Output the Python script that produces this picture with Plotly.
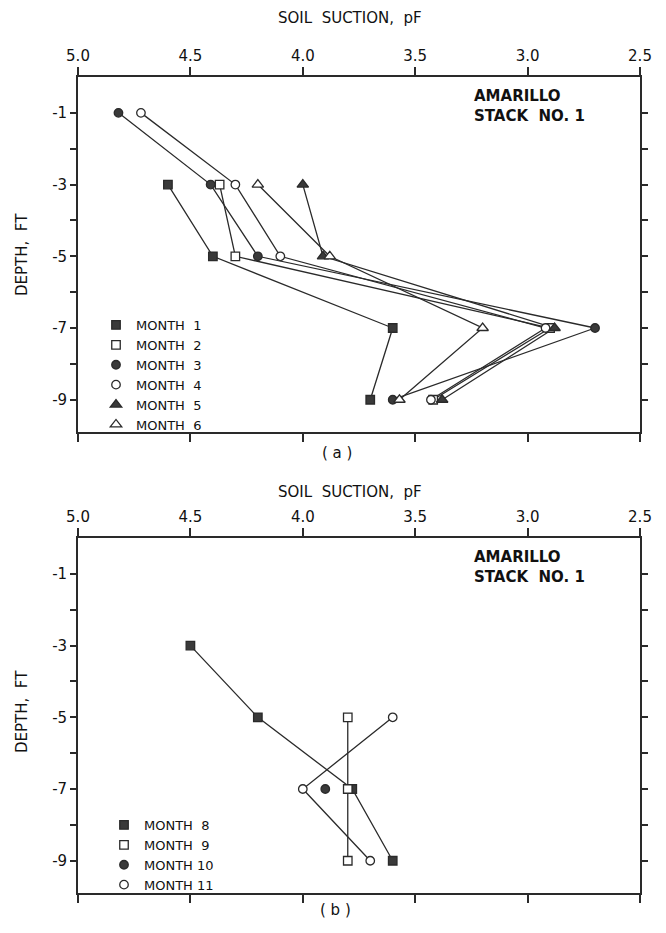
import plotly.graph_objects as go

W, H = 666, 933

# ---------------- data ----------------
depths = [-1, -3, -5, -7, -9]
depth_ticks = [-1, -3, -5, -7, -9]
depth_ticktext = ["-1", "-3", "-5", "-7", "-9"]
suction_ticks = [5.0, 4.5, 4.0, 3.5, 3.0, 2.5]
suction_ticktext = ["5.0", "4.5", "4.0", "3.5", "3.0", "2.5"]

# panel (a)
month1 = [None, 4.60, 4.40, 3.60, 3.70]
month2 = [None, 4.37, 4.30, 2.90, 3.42]
month3 = [4.82, 4.41, 4.20, 2.70, 3.60]
month4 = [4.72, 4.30, 4.10, 2.92, 3.43]
month5 = [None, 4.00, 3.91, 2.88, 3.38]
month6 = [None, 4.20, 3.88, 3.20, 3.57]

# panel (b)
month8 = [None, 4.50, 4.20, 3.78, 3.60]
month9 = [None, None, 3.80, 3.80, 3.80]
month10 = [None, None, None, 3.90, None]
month11 = [None, None, 3.60, 4.00, 3.70]

panel_a = [("MONTH  1", month1), ("MONTH  2", month2), ("MONTH  3", month3),
           ("MONTH  4", month4), ("MONTH  5", month5), ("MONTH  6", month6)]
panel_b = [("MONTH  8", month8), ("MONTH  9", month9),
           ("MONTH 10", month10), ("MONTH 11", month11)]

# ---------------- styles ----------------
INK = "#2a2a2a"
FILL = "#3a3a3a"
FONT = "DejaVu Sans"
styles_a = [("square", True), ("square", False), ("circle", True),
            ("circle", False), ("triangle-up", True), ("triangle-up", False)]
styles_b = [("square", True), ("square", False), ("circle", True), ("circle", False)]


def px_x(p):
    return p / W


def px_y(p):
    return 1 - p / H


fig = go.Figure()


def add_panel(series, styles, xa, ya, legend):
    for (name, vals), (sym, filled) in zip(series, styles):
        fig.add_trace(go.Scatter(
            x=vals, y=depths, mode="lines", xaxis=xa, yaxis=ya,
            line=dict(color=INK, width=1.3), showlegend=False, hoverinfo="skip"))
    for (name, vals), (sym, filled) in zip(series, styles):
        size = 10 if sym == "triangle-up" else 8.5
        fig.add_trace(go.Scatter(
            x=vals, y=depths, mode="markers", name=name, xaxis=xa, yaxis=ya,
            legend=legend,
            marker=dict(symbol=sym, size=size,
                        color=FILL if filled else "white",
                        line=dict(color=INK, width=1.3))))


add_panel(panel_a, styles_a, "x", "y", "legend")
add_panel(panel_b, styles_b, "x2", "y2", "legend2")

xdom = [px_x(78), px_x(640)]
xaxis_common = dict(
    range=[5.0, 2.5], side="top", tickmode="array", tickvals=suction_ticks,
    ticktext=suction_ticktext, ticks="outside", ticklen=8, tickwidth=1.5,
    tickcolor=INK, showline=True, linecolor=INK, linewidth=1.8, mirror="ticks",
    showgrid=False, zeroline=False, tickfont=dict(family=FONT, size=15, color="#111"),
    domain=xdom, automargin=False)
yaxis_common = dict(
    range=[-9.9, 0], tickmode="array", tickvals=depth_ticks, ticktext=depth_ticktext,
    ticks="outside", ticklen=6, tickwidth=1.5, tickcolor=INK,
    minor=dict(tickvals=[-2, -4, -6, -8], ticks="outside", ticklen=6, tickwidth=1.5,
               tickcolor=INK, showgrid=False),
    showline=True, linecolor=INK, linewidth=1.8, mirror="ticks", showgrid=False,
    zeroline=False, tickfont=dict(family=FONT, size=15, color="#111"), automargin=False)

LEG_FONT = dict(family=FONT, size=13, color="#111")
fig.update_layout(
    width=W, height=H, margin=dict(l=0, r=0, t=0, b=0),
    paper_bgcolor="white", plot_bgcolor="white",
    xaxis=dict(**xaxis_common, anchor="y"),
    yaxis=dict(**yaxis_common, anchor="x", domain=[px_y(432), px_y(77)]),
    xaxis2=dict(**xaxis_common, anchor="y2"),
    yaxis2=dict(**yaxis_common, anchor="x2", domain=[px_y(893), px_y(538)]),
    legend=dict(x=px_x(96), y=px_y(310), xanchor="left", yanchor="top",
                bgcolor="rgba(0,0,0,0)", borderwidth=0, tracegroupgap=0,
                font=LEG_FONT, itemwidth=30),
    legend2=dict(x=px_x(104), y=px_y(810), xanchor="left", yanchor="top",
                 bgcolor="rgba(0,0,0,0)", borderwidth=0, tracegroupgap=0,
                 font=LEG_FONT, itemwidth=30),
    showlegend=True,
)

ann_font = dict(family=FONT, size=15, color="#111")
annotations = []
for ty, dy, sy in [(18, 255, 95), (492, 712, 556)]:
    annotations.append(dict(text="SOIL  SUCTION,  pF", x=px_x(350), y=px_y(ty),
                            xref="paper", yref="paper", showarrow=False,
                            font=ann_font, xanchor="center", yanchor="middle"))
    annotations.append(dict(text="DEPTH,  FT", x=px_x(22), y=px_y(dy), textangle=-90,
                            xref="paper", yref="paper", showarrow=False,
                            font=ann_font, xanchor="center", yanchor="middle"))
    annotations.append(dict(text="<b>AMARILLO</b><br><b>STACK  NO. 1</b>",
                            x=px_x(472), y=px_y(sy - 10), xref="paper", yref="paper",
                            showarrow=False, align="left", xanchor="left", yanchor="top",
                            font=dict(family=FONT, size=15, color="#111")))
annotations.append(dict(text="( a )", x=px_x(337), y=px_y(453), xref="paper", yref="paper",
                        showarrow=False, font=dict(family=FONT, size=15, color="#111")))
annotations.append(dict(text="( b )", x=px_x(336), y=px_y(921), xref="paper", yref="paper",
                        showarrow=False, font=dict(family=FONT, size=15, color="#111")))
fig.update_layout(annotations=annotations)

fig.write_html("out.html")
